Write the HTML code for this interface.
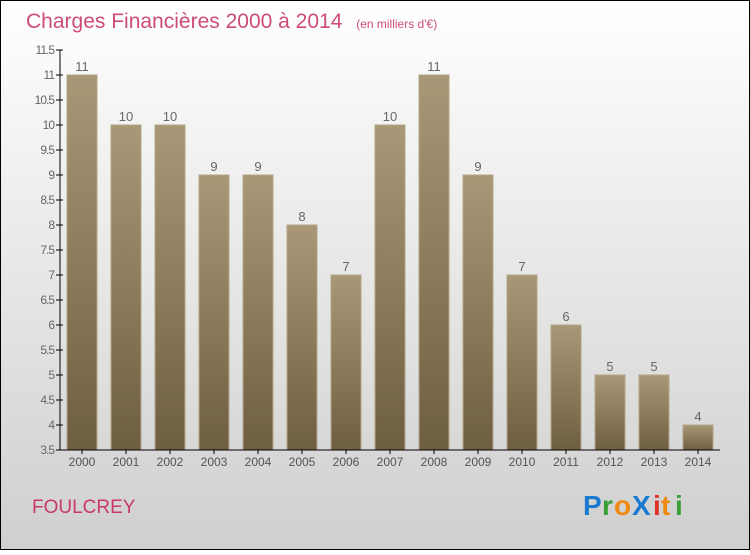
<!DOCTYPE html>
<html><head><meta charset="utf-8"><style>
html,body{margin:0;padding:0;}
body{width:750px;height:550px;overflow:hidden;font-family:"Liberation Sans",sans-serif;}
</style></head><body>
<svg width="750" height="550" xmlns="http://www.w3.org/2000/svg">
<defs>
<linearGradient id="bg" x1="0" y1="0" x2="0" y2="1"><stop offset="0" stop-color="#ffffff"/><stop offset="1" stop-color="#cfcfcf"/></linearGradient>
<linearGradient id="bar" x1="0" y1="0" x2="0" y2="1"><stop offset="0" stop-color="#a99877"/><stop offset="1" stop-color="#6f5f42"/></linearGradient>
</defs>
<rect x="0.5" y="0.5" width="749" height="549" fill="url(#bg)" stroke="#000"/>
<text x="26" y="28" font-size="21" fill="#c8386a" opacity="0.9">Charges Financières 2000 à 2014 <tspan font-size="12" dx="8">(en milliers d'€)</tspan></text>
<g id="yaxis"></g>
<g id="bars"></g>
<g id="xaxis"></g>
<text x="32" y="513" font-size="19" fill="#c8386a">FOULCREY</text>
<g font-size="28" font-family="'Liberation Sans',sans-serif" font-weight="bold">
<text x="583" y="515" fill="#1a7ad0">P</text><text x="602" y="515" fill="#3aa035">r</text><text x="614" y="515" fill="#f08a10">o</text><text x="632" y="515" fill="#1a7ad0">X</text><text x="653" y="515" fill="#e0302a">i</text><text x="661" y="515" fill="#f08a10">t</text><text x="675" y="515" fill="#3aa035">i</text>
</g>
</svg>
<script>
const years=["2000","2001","2002","2003","2004","2005","2006","2007","2008","2009","2010","2011","2012","2013","2014"];
const values=[11,10,10,9,9,8,7,10,11,9,7,6,5,5,4];
const yTicks=[3.5,4,4.5,5,5.5,6,6.5,7,7.5,8,8.5,9,9.5,10,10.5,11,11.5];
const NS="http://www.w3.org/2000/svg";
const yMin=3.5,yMax=11.5,plotTop=50,plotBot=450,plotLeft=60,plotRight=720;
const yS=v=>plotBot-(v-yMin)/(yMax-yMin)*(plotBot-plotTop);
const step=44,x0=82,bw=30;
const xS=i=>x0+i*step;
function mk(tag,attrs,parent){const e=document.createElementNS(NS,tag);for(const k in attrs)e.setAttribute(k,attrs[k]);parent.appendChild(e);return e;}
const ya=document.getElementById('yaxis'),ba=document.getElementById('bars'),xa=document.getElementById('xaxis');
mk('line',{x1:plotLeft,y1:plotTop,x2:plotLeft,y2:plotBot,stroke:'#000'},ya);
yTicks.forEach(t=>{
 const l=mk('line',{x1:plotLeft-4,y1:yS(t),x2:plotLeft+3,y2:yS(t),stroke:'#000'},ya);
 
 
 const tx=mk('text',{x:plotLeft-6,y:yS(t)+4,'font-size':12,fill:'#666','text-anchor':'end','letter-spacing':'-1'},ya);
 tx.textContent=String(t);
 
 
});
values.forEach((v,i)=>{
 const r=mk('rect',{x:xS(i)-bw/2,y:yS(v),width:bw,height:plotBot-yS(v),fill:'url(#bar)',stroke:'#b3a585','stroke-width':1},ba);
 
 
 const t=mk('text',{x:xS(i),y:yS(v)-4,'font-size':13,fill:'#666','text-anchor':'middle'},ba);
 t.textContent=String(v);
 
 
});
mk('line',{x1:plotLeft,y1:plotBot,x2:plotRight,y2:plotBot,stroke:'#000'},xa);
years.forEach((yr,i)=>{
 mk('line',{x1:xS(i),y1:plotBot,x2:xS(i),y2:plotBot+4,stroke:'#000'},xa);
 const t=mk('text',{x:xS(i),y:plotBot+16,'font-size':12,fill:'#555','text-anchor':'middle'},xa);
 t.textContent=yr;
 
 
});
</script>
</body></html>
